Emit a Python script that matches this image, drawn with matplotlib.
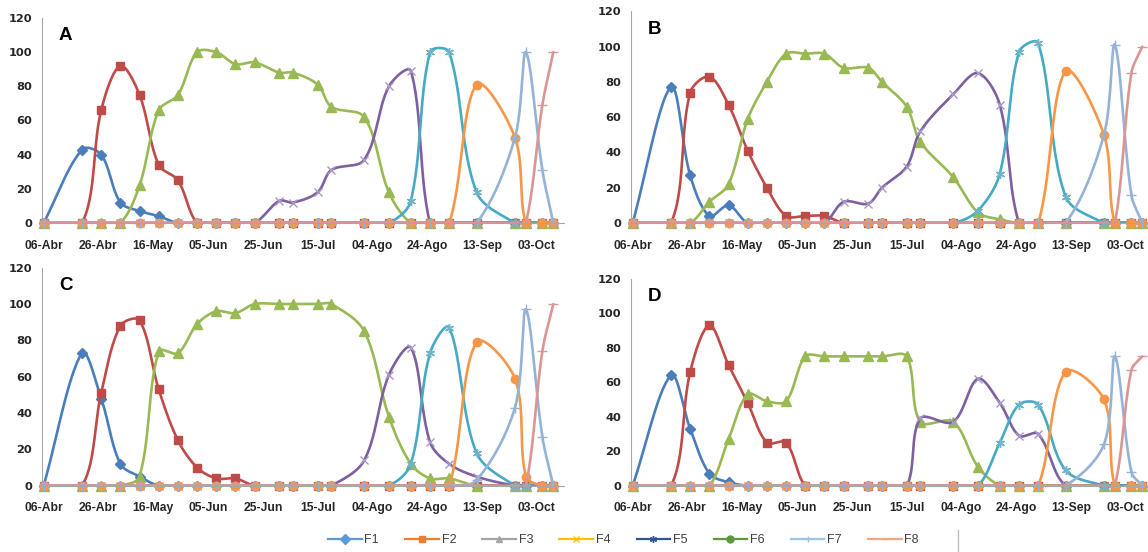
import numpy as np
import matplotlib

matplotlib.use("Agg")
import matplotlib.pyplot as plt
from matplotlib.lines import Line2D

plt.rcParams["font.family"] = ["Liberation Sans", "DejaVu Sans"]

# sampling days counted from 06-Abr
DAYS = [0, 14, 21, 28, 35, 42, 49, 56, 63, 70, 77, 86, 91, 100, 105,
        117, 126, 134, 141, 148, 158, 172, 176, 182, 186]
TICK_DAYS = [0, 20, 40, 60, 80, 100, 120, 140, 160, 180]
TICK_LABELS = ["06-Abr", "26-Abr", "16-May", "05-Jun", "25-Jun",
               "15-Jul", "04-Ago", "24-Ago", "13-Sep", "03-Oct"]
SERIES = ["F1", "F2", "F3", "F4", "F5", "F6", "F7", "F8"]

PANEL_A = [
    [0, 43, 40, 12, 7, 4, 0, 0, 0, 0, 0, 0, 0, 0, 0, 0, 0, 0, 0, 0, 0, 0, 0, 0, 0],
    [0, 0, 66, 92, 75, 34, 25, 0, 0, 0, 0, 0, 0, 0, 0, 0, 0, 0, 0, 0, 0, 0, 0, 0, 0],
    [0, 0, 0, 0, 22, 66, 75, 100, 100, 93, 94, 88, 88, 81, 68, 62, 18, 0, 0, 0, 0, 0, 0, 0, 0],
    [0, 0, 0, 0, 0, 0, 0, 0, 0, 0, 0, 13, 12, 18, 31, 37, 80, 89, 0, 0, 0, 0, 0, 0, 0],
    [0, 0, 0, 0, 0, 0, 0, 0, 0, 0, 0, 0, 0, 0, 0, 0, 0, 13, 100, 100, 18, 0, 0, 0, 0],
    [0, 0, 0, 0, 0, 0, 0, 0, 0, 0, 0, 0, 0, 0, 0, 0, 0, 0, 0, 0, 81, 50, 0, 0, 0],
    [0, 0, 0, 0, 0, 0, 0, 0, 0, 0, 0, 0, 0, 0, 0, 0, 0, 0, 0, 0, 0, 50, 100, 31, 0],
    [0, 0, 0, 0, 0, 0, 0, 0, 0, 0, 0, 0, 0, 0, 0, 0, 0, 0, 0, 0, 0, 0, 0, 69, 100],
]
PANEL_B = [
    [0, 77, 27, 4, 10, 0, 0, 0, 0, 0, 0, 0, 0, 0, 0, 0, 0, 0, 0, 0, 0, 0, 0, 0, 0],
    [0, 0, 74, 83, 67, 41, 20, 4, 4, 4, 0, 0, 0, 0, 0, 0, 0, 0, 0, 0, 0, 0, 0, 0, 0],
    [0, 0, 0, 12, 22, 59, 80, 96, 96, 96, 88, 88, 80, 66, 46, 26, 6, 2, 0, 0, 0, 0, 0, 0, 0],
    [0, 0, 0, 0, 0, 0, 0, 0, 0, 0, 12, 11, 20, 32, 52, 73, 85, 67, 0, 0, 0, 0, 0, 0, 0],
    [0, 0, 0, 0, 0, 0, 0, 0, 0, 0, 0, 0, 0, 0, 0, 0, 7, 28, 97, 102, 15, 0, 0, 0, 0],
    [0, 0, 0, 0, 0, 0, 0, 0, 0, 0, 0, 0, 0, 0, 0, 0, 0, 0, 0, 0, 86, 50, 0, 0, 0],
    [0, 0, 0, 0, 0, 0, 0, 0, 0, 0, 0, 0, 0, 0, 0, 0, 0, 0, 0, 0, 0, 50, 101, 16, 0],
    [0, 0, 0, 0, 0, 0, 0, 0, 0, 0, 0, 0, 0, 0, 0, 0, 0, 0, 0, 0, 0, 0, 0, 85, 100],
]
PANEL_C = [
    [0, 73, 48, 12, 5, 0, 0, 0, 0, 0, 0, 0, 0, 0, 0, 0, 0, 0, 0, 0, 0, 0, 0, 0, 0],
    [0, 0, 51, 88, 91, 53, 25, 10, 4, 4, 0, 0, 0, 0, 0, 0, 0, 0, 0, 0, 0, 0, 0, 0, 0],
    [0, 0, 0, 0, 5, 74, 73, 89, 96, 95, 100, 100, 100, 100, 100, 85, 38, 12, 4, 4, 0, 0, 0, 0, 0],
    [0, 0, 0, 0, 0, 0, 0, 0, 0, 0, 0, 0, 0, 0, 0, 14, 61, 76, 24, 12, 5, 0, 0, 0, 0],
    [0, 0, 0, 0, 0, 0, 0, 0, 0, 0, 0, 0, 0, 0, 0, 0, 0, 12, 73, 87, 18, 0, 0, 0, 0],
    [0, 0, 0, 0, 0, 0, 0, 0, 0, 0, 0, 0, 0, 0, 0, 0, 0, 0, 0, 0, 79, 59, 5, 0, 0],
    [0, 0, 0, 0, 0, 0, 0, 0, 0, 0, 0, 0, 0, 0, 0, 0, 0, 0, 0, 0, 3, 43, 97, 27, 0],
    [0, 0, 0, 0, 0, 0, 0, 0, 0, 0, 0, 0, 0, 0, 0, 0, 0, 0, 0, 0, 0, 0, 0, 74, 100],
]
PANEL_D = [
    [0, 64, 33, 7, 2, 0, 0, 0, 0, 0, 0, 0, 0, 0, 0, 0, 0, 0, 0, 0, 0, 0, 0, 0, 0],
    [0, 0, 66, 93, 70, 48, 25, 25, 0, 0, 0, 0, 0, 0, 0, 0, 0, 0, 0, 0, 0, 0, 0, 0, 0],
    [0, 0, 0, 0, 27, 53, 49, 49, 75, 75, 75, 75, 75, 75, 37, 37, 11, 0, 0, 0, 0, 0, 0, 0, 0],
    [0, 0, 0, 0, 0, 0, 0, 0, 0, 0, 0, 0, 0, 0, 39, 37, 62, 48, 29, 30, 0, 0, 0, 0, 0],
    [0, 0, 0, 0, 0, 0, 0, 0, 0, 0, 0, 0, 0, 0, 0, 0, 0, 25, 47, 47, 9, 0, 0, 0, 0],
    [0, 0, 0, 0, 0, 0, 0, 0, 0, 0, 0, 0, 0, 0, 0, 0, 0, 0, 0, 0, 66, 50, 0, 0, 0],
    [0, 0, 0, 0, 0, 0, 0, 0, 0, 0, 0, 0, 0, 0, 0, 0, 0, 0, 0, 0, 0, 24, 75, 8, 0],
    [0, 0, 0, 0, 0, 0, 0, 0, 0, 0, 0, 0, 0, 0, 0, 0, 0, 0, 0, 0, 0, 0, 0, 67, 75],
]

# colours used for the curves in the panels
LINE_COLORS = ["#4A7EBB", "#BE4B48", "#98B954", "#7D60A0",
               "#46AAC5", "#F79646", "#95B3D7", "#D99694"]
MARK_COLORS = ["#4A7EBB", "#BE4B48", "#98B954", "#A898C4",
               "#6FB5C8", "#F79646", "#95B3D7", "#D99694"]
# the legend of the original uses another palette
LEGEND_COLORS = ["#5B9BD5", "#ED7D31", "#A5A5A5", "#FFC000",
                 "#2F5597", "#5A9A3C", "#9DC3E6", "#F4A582"]
MARKERS = ["D", "s", "^", "x", (6, 2, 0), "o", "+", "_"]
MSIZES = [5, 6, 6.5, 5.5, 6.5, 6, 7, 7]

XLIM = (-0.6, 189.9)
YLIM = (0, 120)


def smooth(xs, ys, sx, sy, n=30):
    # excel-like smoothed line: bezier segments, tangents weighted by
    # chord length (measured in pixels, sx/sy = pixels per data unit)
    p = np.column_stack([np.asarray(xs) * sx, np.asarray(ys) * sy]).astype(float)
    m = len(p)
    d = np.hypot(*np.diff(p, axis=0).T)
    t = np.linspace(0, 1, n)[1:, None]
    parts = [p[:1]]
    for i in range(m - 1):
        p1, p2 = p[i], p[i + 1]
        p0 = p[max(i - 1, 0)]
        p3 = p[min(i + 2, m - 1)]
        d01 = d[i - 1] if i > 0 else 0.0
        d12 = d[i]
        d23 = d[i + 1] if i + 1 < m - 1 else 0.0
        c1 = p1 + (p2 - p0) * d12 / (3 * (d01 + d12))
        c2 = p2 - (p3 - p1) * d12 / (3 * (d12 + d23))
        parts.append((1 - t) ** 3 * p1 + 3 * (1 - t) ** 2 * t * c1
                     + 3 * (1 - t) * t ** 2 * c2 + t ** 3 * p2)
    out = np.vstack(parts)
    return out[:, 0] / sx, out[:, 1] / sy


def draw_panel(ax, data, letter):
    bbox = ax.get_window_extent()
    sx = bbox.width / (XLIM[1] - XLIM[0])
    sy = bbox.height / (YLIM[1] - YLIM[0])
    for i, vals in enumerate(data):
        cx, cy = smooth(DAYS, vals, sx, sy)
        ax.plot(cx, cy, color=LINE_COLORS[i], lw=1.9, zorder=2 + i * 0.01,
                solid_capstyle="round")
        ax.plot(DAYS, vals, ls="none", marker=MARKERS[i], ms=MSIZES[i],
                color=MARK_COLORS[i], mec=MARK_COLORS[i], mew=1.0,
                clip_on=False, zorder=2.005 + i * 0.01)
    ax.set_xlim(*XLIM)
    ax.set_ylim(*YLIM)
    ax.set_xticks(TICK_DAYS)
    ax.set_xticklabels(TICK_LABELS)
    ax.set_yticks(range(0, 121, 20))
    ax.tick_params(axis="x", length=0, pad=12, labelsize=8.7, labelcolor="#262626")
    ax.tick_params(axis="y", length=0, pad=7, labelsize=8.2, labelcolor="#262626")
    for lab in ax.get_xticklabels():
        lab.set_fontweight("bold")
    for lab in ax.get_yticklabels():
        lab.set_fontweight("bold")
        lab.set_family("DejaVu Sans")
    for side in ["top", "right"]:
        ax.spines[side].set_visible(False)
    for side in ["left", "bottom"]:
        ax.spines[side].set_color("#A6A6A6")
        ax.spines[side].set_linewidth(0.8)
    ax.text(8, 110, letter, fontsize=13.5, fontweight="bold", ha="center", va="center")


fig = plt.figure(figsize=(11.48, 5.52), dpi=100)
W, H = 1148, 552
ax_a = fig.add_axes([42 / W, (H - 223) / H, 522 / W, 205 / H])
ax_b = fig.add_axes([631 / W, (H - 223) / H, 522 / W, 211.6 / H])
ax_c = fig.add_axes([42 / W, (H - 485.7) / H, 522 / W, 218 / H])
ax_d = fig.add_axes([631 / W, (H - 485.7) / H, 522 / W, 206.9 / H])

draw_panel(ax_a, PANEL_A, "A")
draw_panel(ax_b, PANEL_B, "B")
draw_panel(ax_c, PANEL_C, "C")
draw_panel(ax_d, PANEL_D, "D")

handles = [
    Line2D([], [], color=LEGEND_COLORS[i], lw=1.6, marker=MARKERS[i], ms=5,
           mec=LEGEND_COLORS[i])
    for i in range(len(SERIES))
]
fig.legend(handles, SERIES, loc="center", bbox_to_anchor=(0.543, 0.021),
           ncol=8, frameon=False, fontsize=9, handlelength=2.7,
           handletextpad=0.2, columnspacing=2.1, labelcolor="#404040")
fig.add_artist(Line2D([958 / W, 958 / W], [0, 22 / H], color="#BFBFBF", lw=1))

fig.savefig("out.png", dpi=100)
